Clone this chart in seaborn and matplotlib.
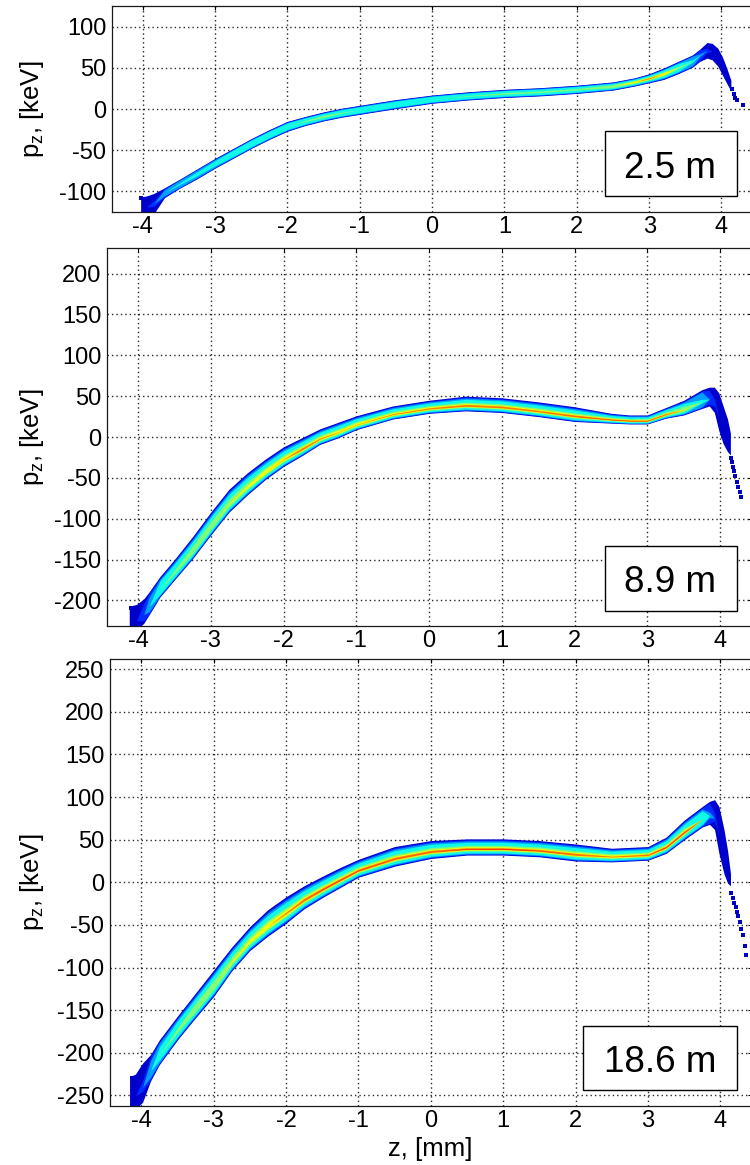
import numpy as np
import matplotlib
import matplotlib.pyplot as plt
import seaborn as sns
from matplotlib.patches import Rectangle
from matplotlib.ticker import MultipleLocator

sns.set_theme(style="white")
plt.rcParams['font.family'] = ['Liberation Sans', 'DejaVu Sans']
plt.rcParams['axes.unicode_minus'] = False
plt.rcParams['mathtext.default'] = 'regular'
plt.rcParams['text.color'] = 'black'
plt.rcParams['axes.labelcolor'] = 'black'
plt.rcParams['xtick.color'] = 'black'
plt.rcParams['ytick.color'] = 'black'

# ---- data: band edges (top/bottom) and peak density along z ----
# 2.5 m
z_25 = [-4.03, -3.95, -3.85, -3.7, -3.5, -3.25, -3.0, -2.75, -2.5, -2.25,
        -2.0, -1.75, -1.5, -1.25, -1.0, -0.5, 0.0, 0.5, 1.0, 1.5,
        2.0, 2.5, 2.8, 3.0, 3.2, 3.4, 3.6, 3.7, 3.8, 3.87,
        3.95, 4.02, 4.08, 4.13]
top_25 = [-107, -106, -103, -96, -86, -73, -60, -48, -36, -25,
          -15, -9, -3.5, 1, 4.5, 11.5, 17, 21, 24, 26,
          29, 33, 38, 43, 50, 58, 66, 73, 81, 80,
          74, 62, 48, 35]
bot_25 = [-130, -132, -128, -108, -97, -85, -72, -60, -48, -37,
          -27, -20, -14.5, -10, -6.5, 0.5, 7, 11, 14, 16,
          19, 23, 28, 32, 36, 43, 51, 58, 62, 60,
          52, 40, 30, 22]
dens_25 = [0.1, 0.1, 0.15, 0.3, 0.35, 0.38, 0.4, 0.42, 0.42, 0.42,
           0.45, 0.48, 0.52, 0.48, 0.45, 0.45, 0.45, 0.47, 0.5, 0.5,
           0.5, 0.55, 0.7, 0.8, 0.7, 0.5, 0.35, 0.25, 0.15, 0.12,
           0.1, 0.1, 0.1, 0.1]
dotz_25 = [-4.03, 4.15, 4.17, 4.19, 4.21, 4.3]
dotp_25 = [-108, 24, 18, 14, 11, 5]

# 8.9 m
z_89 = [-4.12, -4.02, -3.92, -3.85, -3.7, -3.5, -3.25, -3.0, -2.75, -2.5,
        -2.25, -2.0, -1.75, -1.5, -1.25, -1.0, -0.5, 0.0, 0.5, 1.0,
        1.5, 2.0, 2.5, 2.75, 3.0, 3.25, 3.5, 3.75, 3.85, 3.92,
        3.98, 4.04, 4.1, 4.14]
top_89 = [-207, -205, -198, -190, -171, -150, -122, -92, -64, -44,
          -27, -12, -1, 10, 18, 26, 38, 45, 50, 48,
          43, 37, 29, 27, 27, 36, 45, 58, 61, 61,
          54, 38, 22, 5]
bot_89 = [-236, -236, -228, -218, -196, -175, -149, -120, -92, -71,
          -52, -36, -23, -9, -1, 9, 22, 29, 32, 30,
          25, 19, 17, 16, 16, 23, 27, 35, 38, 30,
          8, -8, -18, -22]
dens_89 = [0.1, 0.1, 0.2, 0.3, 0.42, 0.5, 0.55, 0.58, 0.6, 0.64,
           0.68, 0.72, 0.8, 0.76, 0.72, 0.72, 0.75, 0.78, 0.8, 0.8,
           0.78, 0.82, 0.86, 0.86, 0.86, 0.8, 0.6, 0.35, 0.2, 0.15,
           0.12, 0.1, 0.1, 0.1]
dotz_89 = [-4.1, -4.07, 4.15, 4.16, 4.18, 4.19, 4.21, 4.23, 4.25, 4.27, 4.29]
dotp_89 = [-209, -211, -26, -31, -37, -42, -48, -55, -61, -67, -74]

# 18.6 m
z_186 = [-4.16, -4.08, -3.98, -3.87, -3.75, -3.5, -3.25, -3.0, -2.75, -2.5,
         -2.25, -2.0, -1.75, -1.5, -1.25, -1.0, -0.5, 0.0, 0.5, 1.0,
         1.5, 2.0, 2.5, 3.0, 3.25, 3.5, 3.75, 3.85, 3.92, 3.98,
         4.05, 4.1, 4.14]
top_186 = [-228, -225, -212, -202, -185, -157, -130, -103, -76, -52,
           -32, -17, -4, 7, 17.5, 27, 42, 49, 51, 51,
           49, 45, 40, 42, 53, 73, 89, 95, 97, 89,
           62, 37, 10]
bot_186 = [-262, -266, -258, -233, -214, -185, -159, -134, -104, -80,
           -63, -48, -31, -18, -6, 6, 19, 28, 32, 32,
           30, 25, 24, 26, 34, 50, 65, 68, 62, 34,
           10, -1, -4]
dens_186 = [0.1, 0.1, 0.15, 0.3, 0.4, 0.5, 0.55, 0.58, 0.62, 0.65,
            0.7, 0.75, 0.8, 0.85, 0.85, 0.85, 0.82, 0.82, 0.85, 0.88,
            0.84, 0.8, 0.75, 0.8, 0.88, 0.85, 0.45, 0.25, 0.15, 0.12,
            0.1, 0.1, 0.1]
dotz_186 = [-4.13, -4.11, 4.15, 4.17, 4.19, 4.21, 4.23, 4.25, 4.27, 4.29, 4.31, 4.34, 4.36]
dotp_186 = [-229, -231, -13, -18, -24, -29, -35, -40, -47, -55, -62, -75, -85]

labels = ["2.5 m", "8.9 m", "18.6 m"]
ylims = [125.5, 231, 262]

# ---- layout (pixels of a 750x1165 canvas) ----
W, H = 750, 1165
axes_px = [(111.7, 752.6, 6, 212), (106.7, 751.5, 248.3, 625.7), (110, 751.5, 659, 1105.7)]
box_px = [(605, 737.3, 131, 196), (605, 737.3, 545.7, 610.7), (583.3, 737.3, 1025.7, 1090)]
text_px = [(669.5, 178.3), (669.5, 591.7), (660, 1071.7)]
core_pos = [0.5, 0.36, 0.38]

jet = matplotlib.colormaps['jet']
# (threshold, width fraction, colour) of the nested density layers
layers = [(0.0, 1.0, jet(0.07)), (0.12, 0.9, jet(0.17)), (0.22, 0.8, jet(0.28)),
          (0.32, 0.66, jet(0.37)), (0.45, 0.36, jet(0.5)), (0.58, 0.22, jet(0.64)),
          (0.70, 0.12, jet(0.78)), (0.80, 0.06, jet(0.88))]

panels = [(z_25, top_25, bot_25, dens_25, dotz_25, dotp_25),
          (z_89, top_89, bot_89, dens_89, dotz_89, dotp_89),
          (z_186, top_186, bot_186, dens_186, dotz_186, dotp_186)]

fig = plt.figure(figsize=(W / 100, H / 100), dpi=100)

for i, (z, top, bot, dens, dz, dp) in enumerate(panels):
    l, r, t, b = axes_px[i]
    ax = fig.add_axes([l / W, 1 - b / H, (r - l) / W, (b - t) / H])
    ax.set_axisbelow(True)

    z = np.array(z, float)
    top = np.array(top, float)
    bot = np.array(bot, float)
    dens = np.array(dens, float)
    core = bot + core_pos[i] * (top - bot)
    for thr, frac, col in layers:
        w = frac * np.clip((dens - thr) / 0.1, 0, 1)
        ax.fill_between(z, core - w * (core - bot), core + w * (top - core),
                        color=col, lw=0, zorder=2)

    sns.scatterplot(x=dz, y=dp, ax=ax, marker='s', s=6, color=jet(0.06),
                    linewidth=0, zorder=3, legend=False)

    ax.set_xlim(-4.43, 4.43)
    ax.set_ylim(-ylims[i], ylims[i])
    ax.xaxis.set_major_locator(MultipleLocator(1))
    ax.yaxis.set_major_locator(MultipleLocator(50))
    ax.grid(True, color='black', linestyle=(0, (1, 2.2)), linewidth=1.0, alpha=0.85)
    ax.tick_params(direction='in', top=True, right=True, length=3, width=0.8,
                   labelsize=17, colors='black')
    ax.tick_params(axis='x', pad=3.0)
    ax.tick_params(axis='y', pad=4.0)
    for s in ax.spines.values():
        s.set_color('0.1')
        s.set_linewidth(0.9)

    ax.set_ylabel('p$_z$, [keV]', fontsize=18.5)
    ax.yaxis.set_label_coords((46 - l) / (r - l), 0.5)

    bx0, bx1, by0, by1 = box_px[i]
    fig.add_artist(Rectangle((bx0 / W, 1 - by1 / H), (bx1 - bx0) / W, (by1 - by0) / H,
                             transform=fig.transFigure, facecolor='white',
                             edgecolor='black', linewidth=1.0, zorder=10))
    tx, ty = text_px[i]
    fig.text(tx / W, 1 - ty / H, labels[i], fontsize=26.5, ha='center', va='baseline',
             zorder=11)

    if i == 2:
        ax.set_xlabel('z, [mm]', fontsize=18.5)
        ax.xaxis.set_label_coords(0.5, -(1137 - b) / (b - t))

fig.savefig('out.png', dpi=100)
